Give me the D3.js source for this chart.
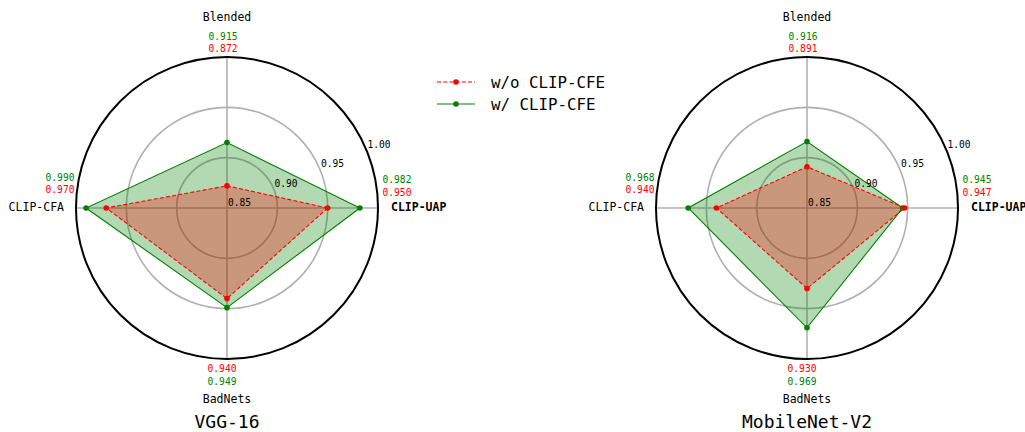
<!DOCTYPE html>
<html>
<head>
<meta charset="utf-8">
<script src="https://cdn.jsdelivr.net/npm/d3@7"></script>
<style>
  html, body { margin: 0; padding: 0; background: #fff; }
  svg { display: block; }
  text { font-family: "DejaVu Sans Mono", "Liberation Mono", monospace; }
</style>
</head>
<body>
<svg id="chart" width="1025" height="432"></svg>
<script>
// Attack categories around the radar, counter-clockwise from the right
const categories = ["CLIP-UAP", "Blended", "CLIP-CFA", "BadNets"];
const boldCategories = ["CLIP-UAP"];

// Per-model scores (same order as categories)
const models = ["VGG-16", "MobileNet-V2"];
const vggWithout = [0.950, 0.872, 0.970, 0.940];
const vggWith = [0.982, 0.915, 0.990, 0.949];
const mobileWithout = [0.947, 0.891, 0.940, 0.930];
const mobileWith = [0.945, 0.916, 0.968, 0.969];

const seriesNames = ["w/o CLIP-CFE", "w/ CLIP-CFE"];
const radialTicks = [0.85, 0.90, 0.95, 1.00];
const radialDomain = [0.85, 1.00];

const RED = "#ff0000", GREEN = "#008000";

const svg = d3.select("#chart");
const R = 151;
const r = d3.scaleLinear().domain(radialDomain).range([0, R]);
const angle = d3.scalePoint().domain(categories).range([0, 270]); // degrees, math convention
const toXY = (cat, v) => {
  const a = angle(cat) * Math.PI / 180;
  return [r(v) * Math.cos(a), -r(v) * Math.sin(a)];
};

function radar(cx, cy, title, without, withv) {
  const g = svg.append("g").attr("transform", `translate(${cx},${cy})`);

  // grid: spokes and inner circles
  categories.forEach(c => {
    const [x, y] = toXY(c, radialDomain[1]);
    g.append("line").attr("x1", 0).attr("y1", 0).attr("x2", x).attr("y2", y)
      .attr("stroke", "#b0b0b0").attr("stroke-width", 1.6);
  });
  radialTicks.slice(1, -1).forEach(t => {
    g.append("circle").attr("r", r(t)).attr("fill", "none")
      .attr("stroke", "#b0b0b0").attr("stroke-width", 1.6);
  });

  const line = d3.line().curve(d3.curveLinearClosed);
  const series = [
    { vals: withv, color: GREEN, dash: null },
    { vals: without, color: RED, dash: "4,2.2" }
  ];
  series.forEach(s => {
    const pts = categories.map((c, i) => toXY(c, s.vals[i]));
    g.append("path").attr("d", line(pts))
      .attr("fill", s.color).attr("fill-opacity", 0.3).attr("stroke", "none");
  });
  series.forEach(s => {
    const pts = categories.map((c, i) => toXY(c, s.vals[i]));
    g.append("path").attr("d", line(pts))
      .attr("fill", "none").attr("stroke", s.color).attr("stroke-width", 1.1)
      .attr("stroke-dasharray", s.dash);
    g.selectAll(null).data(pts).enter().append("circle")
      .attr("cx", d => d[0]).attr("cy", d => d[1]).attr("r", 2.8)
      .attr("fill", s.color);
  });

  // outer frame
  g.append("circle").attr("r", R).attr("fill", "none")
    .attr("stroke", "#000").attr("stroke-width", 2);

  // radial tick labels at 22.5 degrees
  const ta = 22.5 * Math.PI / 180;
  radialTicks.forEach(t => {
    g.append("text")
      .attr("x", r(t) * Math.cos(ta) + 1)
      .attr("y", -r(t) * Math.sin(ta) - 2)
      .attr("font-size", 9.6).attr("fill", "#000")
      .text(d3.format(".2f")(t));
  });

  // category names with their two scores
  const fmt = d3.format(".3f");
  categories.forEach((c, i) => {
    const a = angle(c);
    const bold = boldCategories.includes(c) ? "bold" : "normal";
    let lx, ly, anchor, vx, vy;
    if (a === 0) { lx = R + 13; ly = -1; anchor = "start"; vx = R + 19; vy = [-29, -16]; }
    else if (a === 180) { lx = -R - 12; ly = -1; anchor = "end"; vx = -R - 16; vy = [-31, -19]; }
    else if (a === 90) { lx = 0; ly = -R - 40; anchor = "middle"; vx = -4; vy = [-172, -160]; }
    else { lx = 0; ly = R + 40; anchor = "middle"; vx = -5; vy = [173, 160]; }
    g.append("text").attr("x", lx).attr("y", ly)
      .attr("text-anchor", anchor).attr("dominant-baseline", "central")
      .attr("font-size", 11.5).attr("font-weight", bold).attr("fill", "#000")
      .text(c);
    [[withv[i], GREEN], [without[i], RED]].forEach(([v, col], k) => {
      g.append("text").attr("x", vx).attr("y", vy[k])
        .attr("text-anchor", "middle").attr("dominant-baseline", "central")
        .attr("font-size", 9.6).attr("fill", col).text(fmt(v));
    });
  });

  g.append("text").attr("x", 0).attr("y", R + 62)
    .attr("text-anchor", "middle").attr("dominant-baseline", "central")
    .attr("font-size", 18).attr("fill", "#000").text(title);
}

radar(227, 208, models[0], vggWithout, vggWith);
radar(807, 208, models[1], mobileWithout, mobileWith);

// legend
const legend = svg.append("g").attr("transform", "translate(437,82)");
[[seriesNames[0], RED, "4,2.2"], [seriesNames[1], GREEN, null]].forEach(([name, col, dash], i) => {
  const row = legend.append("g").attr("transform", `translate(0,${i * 22})`);
  row.append("line").attr("x1", 0).attr("x2", 38).attr("y1", 0).attr("y2", 0)
    .attr("stroke", col).attr("stroke-width", 1.1).attr("stroke-dasharray", dash);
  row.append("circle").attr("cx", 19).attr("cy", 0).attr("r", 2.8).attr("fill", col);
  row.append("text").attr("x", 54).attr("y", 0).attr("dominant-baseline", "central")
    .attr("font-size", 15.8).attr("fill", "#000").text(name);
});
</script>
</body>
</html>
